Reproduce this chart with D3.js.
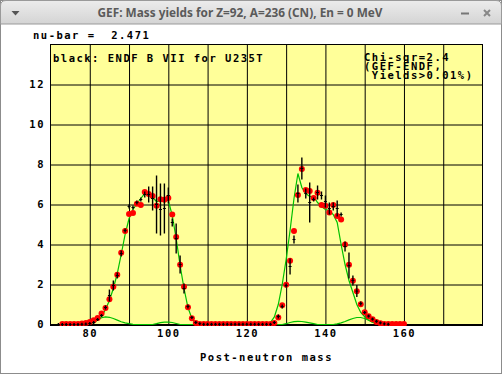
<!DOCTYPE html>
<html>
<head>
<meta charset="utf-8">
<script src="https://cdn.jsdelivr.net/npm/d3@7"></script>
<style>
body { margin: 0; background: #fff; }
svg text { font-family: "DejaVu Sans Mono", monospace; font-weight: bold; font-size: 10.5px; letter-spacing: 1.5px; white-space: pre; }
</style>
</head>
<body>
<svg id="chart" width="502" height="375"></svg>
<script>
// GEF post-neutron mass yields (red dots), first mass = gef_start
var gef_start = 73;
var gef_yield = [0.03, 0.03, 0.03, 0.03, 0.03, 0.05, 0.08, 0.13, 0.21, 0.33,
    0.55, 0.83, 1.26, 1.89, 2.49, 3.59, 4.68, 5.53, 5.58, 6.04,
    5.98, 6.63, 6.52, 6.43, 5.94, 6.26, 6.24, 6.33, 5.50, 4.38,
    2.99, 1.89, 0.86, 0.31, 0.08, 0.03,
    0.03, 0.03, 0.03, 0.03, 0.03, 0.03, 0.03, 0.03, 0.03, 0.03,
    0.03, 0.03, 0.03, 0.03, 0.03, 0.03, 0.03, 0.03,
    0.08, 0.35, 0.96, 1.99, 3.19, 4.68, 6.48, 7.77, 6.72, 6.68,
    6.33, 6.59, 5.98, 5.94, 5.60, 5.98, 5.43, 5.25, 4.00, 2.99,
    2.19, 1.66, 1.01, 0.61, 0.41, 0.26, 0.13, 0.06, 0.03, 0.03,
    0.03, 0.03, 0.03, 0.03];

// GEF curve (green) and its small components, first mass = curve_start
var curve_start = 76;
var gef_curve = [0, 0.01, 0.02, 0.04, 0.07, 0.12, 0.22, 0.40, 0.75, 1.20,
    1.80, 2.55, 3.50, 4.50, 5.30, 5.75, 6.05, 6.30, 6.55, 6.50,
    6.35, 6.15, 6.20, 6.25, 6.20, 5.45, 4.30, 2.95, 1.80, 0.85,
    0.30, 0.08, 0.02, 0, 0, 0, 0, 0, 0, 0,
    0, 0, 0, 0, 0, 0, 0, 0, 0, 0.02,
    0.10, 0.38, 1.00, 2.00, 3.25, 4.70, 6.30, 7.55, 6.85, 6.55,
    6.40, 6.40, 6.10, 5.90, 5.75, 5.70, 5.50, 5.10, 4.00, 3.00,
    2.20, 1.60, 1.00, 0.60, 0.38, 0.22, 0.11, 0.05, 0.02, 0,
    0, 0];
var gef_comp = [0, 0, 0, 0, 0.03, 0.10, 0.22, 0.34, 0.38, 0.36,
    0.30, 0.22, 0.14, 0.08, 0.04, 0.01, 0, 0, 0, 0,
    0, 0.04, 0.09, 0.12, 0.12, 0.10, 0.05, 0, 0, 0,
    0, 0, 0, 0, 0, 0, 0, 0, 0, 0,
    0, 0, 0, 0, 0, 0, 0, 0, 0, 0,
    0, 0, 0, 0, 0.04, 0.10, 0.14, 0.16, 0.15, 0.12,
    0.08, 0.04, 0, 0, 0, 0, 0, 0.03, 0.08, 0.15,
    0.23, 0.30, 0.35, 0.35, 0.30, 0.21, 0.12, 0.05, 0.01, 0,
    0, 0];

// ENDF/B-VII U235T (black crosses with error bars), first mass = endf_start
var endf_start = 72;
var endf_yield = [0, 0, 0, 0, 0, 0, 0.01, 0.02, 0.05, 0.10,
    0.25, 0.45, 0.85, 1.45, 1.95, 2.45, 3.55, 4.70, 5.90, 5.85,
    6.10, 6.25, 6.50, 6.50, 6.30, 6.00, 5.75, 5.80, 6.45, 5.10,
    4.30, 3.00, 1.80, 0.90, 0.35, 0.10, 0.04,
    0.01, 0.01, 0.01, 0.01, 0.01, 0.01, 0.01, 0.01, 0.01, 0.01,
    0.01, 0.01, 0.01, 0.01, 0.01, 0.01, 0.01, 0.01,
    0.10, 0.40, 0.90, 1.95, 2.90, 4.25, 6.55, 7.80, 6.55, 6.10,
    6.25, 6.60, 6.45, 6.15, 5.80, 5.90, 5.80, 5.50, 3.90, 2.95,
    2.20, 1.67, 1.05, 0.60, 0.42, 0.27, 0.16, 0.08, 0.03, 0.01];
var endf_error = [0, 0, 0, 0, 0, 0, 0, 0, 0, 0.02,
    0.03, 0.05, 0.10, 0.30, 0.25, 0.15, 0.15, 0.10, 0.10, 0.10,
    0.10, 0.10, 0.15, 0.40, 0.60, 1.45, 1.30, 1.25, 0.40, 0.20,
    0.75, 0.45, 0.25, 0.10, 0.05, 0.02, 0,
    0, 0, 0, 0, 0, 0, 0, 0, 0, 0,
    0, 0, 0, 0, 0, 0, 0, 0,
    0.02, 0.10, 0.10, 0.10, 0.40, 0.20, 0.45, 0.55, 0.25, 1.00,
    0.10, 0.35, 0.20, 0.30, 0.30, 0.20, 0.40, 0.10, 0.25, 0.65,
    0.25, 0.30, 0.10, 0.05, 0.03, 0.02, 0.02, 0, 0, 0];

var x_grid = [80, 90, 100, 110, 120, 130, 140, 150, 160, 170];
var x_ticks = [80, 100, 120, 140, 160];
var y_grid = [2, 4, 6, 8, 10, 12];
var y_ticks = [0, 2, 4, 6, 8, 10, 12];

var svg = d3.select("#chart");

function to_points(start, values) {
    return values.map(function (v, i) { return { m: start + i, v: v }; });
}

function add_window(svgobj) {
    var defs = svgobj.append("defs");
    var grad = defs.append("linearGradient")
        .attr("id", "titlegrad")
        .attr("x1", 0).attr("y1", 0).attr("x2", 0).attr("y2", 1);
    grad.append("stop").attr("offset", "0%").attr("stop-color", "#ececec");
    grad.append("stop").attr("offset", "100%").attr("stop-color", "#d4d4d4");

    svgobj.append("rect")
        .attr("x", 0.5).attr("y", 0.5)
        .attr("width", 501).attr("height", 373)
        .attr("fill", "#fff")
        .attr("stroke", "#8c8c8c");

    svgobj.append("path")
        .attr("d", "M0.5,24 V6 Q0.5,0.5 6,0.5 H496 Q501.5,0.5 501.5,6 V24 Z")
        .attr("fill", "url(#titlegrad)")
        .attr("stroke", "#9a9a9a");

    svgobj.append("text")
        .attr("x", 240)
        .attr("y", 17)
        .attr("text-anchor", "middle")
        .attr("textLength", 285)
        .attr("lengthAdjust", "spacingAndGlyphs")
        .style("font-family", "'Noto Sans', sans-serif")
        .style("font-size", "12px")
        .style("letter-spacing", "0px")
        .style("fill", "#5a5a5a")
        .text("GEF: Mass yields for Z=92, A=236 (CN), En = 0 MeV");

    svgobj.append("path")
        .attr("d", "M11.5,11 L19.5,11 L15.5,15.5 Z")
        .attr("fill", "#555");
    svgobj.append("rect")
        .attr("x", 461).attr("y", 12.5)
        .attr("width", 8).attr("height", 2)
        .attr("fill", "#777");
    svgobj.append("path")
        .attr("d", "M484,10 L490,16 M490,10 L484,16")
        .attr("stroke", "#888")
        .attr("stroke-width", 2);
}

function add_plot(svgobj) {
    var left = 50, top = 44, right = 483, bottom = 325;
    var x = d3.scaleLinear().domain([70, 180]).range([left + 0.5, right - 0.5]);
    var y = d3.scaleLinear().domain([0, 14]).range([bottom - 0.5, top + 0.5]);

    svgobj.append("rect")
        .attr("x", left).attr("y", top)
        .attr("width", right - left).attr("height", bottom - top)
        .attr("fill", "#ffff99");

    // grid
    var gx = svgobj.append("g")
        .attr("transform", "translate(0," + bottom + ")")
        .call(d3.axisBottom(x).tickValues(x_grid).tickSize(-(bottom - top)).tickFormat(""));
    var gy = svgobj.append("g")
        .attr("transform", "translate(" + left + ",0)")
        .call(d3.axisLeft(y).tickValues(y_grid).tickSize(-(right - left)).tickFormat(""));
    gx.select(".domain").remove();
    gy.select(".domain").remove();
    svgobj.selectAll(".tick line").attr("stroke", "#000").attr("stroke-width", 1);

    svgobj.append("rect")
        .attr("x", left + 0.5).attr("y", top + 0.5)
        .attr("width", right - left - 1).attr("height", bottom - top - 1)
        .attr("fill", "none")
        .attr("stroke", "#000");
    svgobj.append("line")
        .attr("x1", left).attr("x2", right)
        .attr("y1", bottom).attr("y2", bottom)
        .attr("stroke", "#000")
        .attr("stroke-width", 2);

    // tick labels
    var lx = svgobj.append("g")
        .attr("transform", "translate(0," + bottom + ")")
        .call(d3.axisBottom(x).tickValues(x_ticks).tickSize(0).tickPadding(5));
    var ly = svgobj.append("g")
        .attr("transform", "translate(" + left + ",0)")
        .call(d3.axisLeft(y).tickValues(y_ticks).tickSize(0).tickPadding(5));
    lx.select(".domain").remove();
    ly.select(".domain").remove();
    lx.attr("font-family", null).attr("font-size", null);
    ly.attr("font-family", null).attr("font-size", null);
    svgobj.selectAll(".tick text").attr("fill", "#000");

    // data
    svgobj.append("clipPath").attr("id", "plotclip")
        .append("rect")
        .attr("x", left).attr("y", top)
        .attr("width", right - left).attr("height", bottom - top + 1);
    var g = svgobj.append("g").attr("clip-path", "url(#plotclip)");

    var line = d3.line()
        .x(function (d) { return x(d.m); })
        .y(function (d) { return y(d.v); });

    g.append("path")
        .datum(to_points(curve_start, gef_comp))
        .attr("d", line)
        .attr("fill", "none")
        .attr("stroke", "#00c000")
        .attr("stroke-width", 1.2);

    g.append("path")
        .datum(to_points(curve_start, gef_curve))
        .attr("d", line)
        .attr("fill", "none")
        .attr("stroke", "#00c000")
        .attr("stroke-width", 1.2);

    g.selectAll(".dot")
        .data(to_points(gef_start, gef_yield))
        .enter().append("circle")
        .attr("class", "dot")
        .attr("cx", function (d) { return x(d.m); })
        .attr("cy", function (d) { return y(d.v); })
        .attr("r", 3)
        .attr("fill", "#ff0000");

    var endf = endf_yield.map(function (v, i) {
        return { m: endf_start + i, v: v, e: endf_error[i] };
    });
    var bars = g.selectAll(".endf")
        .data(endf)
        .enter().append("g")
        .attr("class", "endf");
    bars.append("line")
        .attr("x1", function (d) { return x(d.m); })
        .attr("x2", function (d) { return x(d.m); })
        .attr("y1", function (d) { return Math.max(y(d.v - d.e), y(d.v) + 1.5); })
        .attr("y2", function (d) { return Math.min(y(d.v + d.e), y(d.v) - 1.5); })
        .attr("stroke", "#000")
        .attr("stroke-width", 1.4);
    bars.append("line")
        .attr("x1", function (d) { return x(d.m) - 1.5; })
        .attr("x2", function (d) { return x(d.m) + 1.5; })
        .attr("y1", function (d) { return y(d.v); })
        .attr("y2", function (d) { return y(d.v); })
        .attr("stroke", "#000")
        .attr("stroke-width", 1);

    // labels
    svgobj.append("text")
        .attr("x", 200)
        .attr("y", 361)
        .text("Post-neutron mass");
    svgobj.append("text")
        .attr("x", 53)
        .attr("y", 61.5)
        .text("black: ENDF B VII for U235T");
    svgobj.append("text").attr("x", 364).attr("y", 61).text("Chi-sqr=2.4");
    svgobj.append("text").attr("x", 364).attr("y", 70).text("(GEF-ENDF,");
    svgobj.append("text").attr("x", 364).attr("y", 79).text(" Yields>0.01%)");
}

add_window(svg);

svg.append("text")
    .attr("x", 33)
    .attr("y", 39)
    .text("nu-bar =  2.471");

add_plot(svg);
</script>
</body>
</html>
